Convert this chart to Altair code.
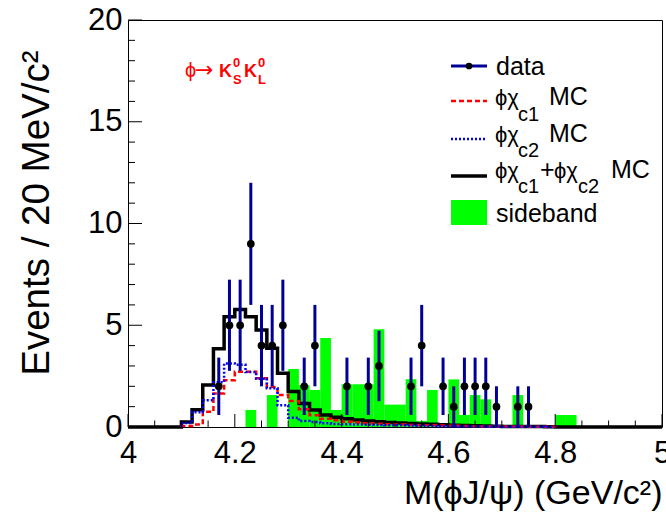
import altair as alt
import pandas as pd

FONT = "Liberation Sans"
W, H = 534, 407
BIN = 0.02

# ---------------- data ----------------
# MC histograms (20 MeV bins), contents from the bin starting at 4.10 to the bin starting at 4.78
mc_start = 4.10
mc_total = [0.25, 0.85, 2.06, 3.85, 5.42, 5.78, 5.42, 4.77, 3.87, 2.64, 1.74, 1.16, 0.83, 0.59,
            0.48, 0.40, 0.34, 0.30, 0.26, 0.22, 0.20, 0.17, 0.15, 0.13, 0.11, 0.09, 0.07, 0.06,
            0.05, 0.04, 0.03, 0.03, 0.02, 0.02, 0.01]
mc_c1 = [0.05, 0.12, 0.75, 1.65, 2.30, 2.72, 2.72, 2.40, 1.96, 1.57, 1.28, 0.87, 0.58, 0.40,
         0.33, 0.26, 0.22, 0.19, 0.16, 0.13, 0.12, 0.10, 0.09, 0.08, 0.07, 0.06, 0.05, 0.04,
         0.03, 0.03, 0.02, 0.02, 0.01, 0.01, 0.01]
mc_c2 = [0.20, 0.73, 1.31, 2.20, 3.12, 3.06, 2.70, 2.37, 1.91, 1.07, 0.46, 0.29, 0.25, 0.19,
         0.15, 0.14, 0.12, 0.11, 0.10, 0.09, 0.08, 0.07, 0.06, 0.05, 0.04, 0.03, 0.02, 0.02,
         0.02, 0.01, 0.01, 0.01, 0.01, 0.01, 0.00]

# sideband (bin low edge, content)
side_lo = [4.22, 4.26, 4.30, 4.32, 4.34, 4.36, 4.38, 4.40, 4.42, 4.44, 4.46, 4.48, 4.50, 4.52,
           4.54, 4.56, 4.60, 4.62, 4.64, 4.66, 4.72, 4.80, 4.82]
side_val = [0.84, 1.57, 2.85, 2.06, 1.82, 4.37, 0.84, 2.10, 2.10, 2.10, 4.80, 1.10, 1.10, 2.35,
            0.30, 1.82, 2.34, 0.59, 1.57, 1.36, 1.57, 0.59, 0.59]

# data points
data_x = [4.17, 4.19, 4.21, 4.23, 4.25, 4.27, 4.29, 4.33, 4.35, 4.41, 4.45, 4.47, 4.53, 4.55,
          4.59, 4.61, 4.63, 4.65, 4.67, 4.69, 4.73, 4.75]
data_n = [2, 5, 5, 9, 4, 4, 5, 2, 4, 2, 2, 3, 2, 4, 2, 1, 2, 2, 2, 1, 1, 1]
data_err = [1.41, 2.24, 2.24, 3.0, 2.0, 2.0, 2.24, 1.41, 2.0, 1.41, 1.41, 1.73, 1.41, 2.0,
            1.41, 1.0, 1.41, 1.41, 1.41, 1.0, 1.0, 1.0]

# axis ticks
x_major = [4.0, 4.2, 4.4, 4.6, 4.8, 5.0]
x_minor = [4.05, 4.1, 4.15, 4.25, 4.3, 4.35, 4.45, 4.5, 4.55, 4.65, 4.7, 4.75, 4.85, 4.9, 4.95]
y_major = [0, 5, 10, 15, 20]
y_minor = [1, 2, 3, 4, 6, 7, 8, 9, 11, 12, 13, 14, 16, 17, 18, 19]

# ---------------- scales / axes ----------------
xs = alt.Scale(domain=[4, 5], nice=False, zero=False)
ys = alt.Scale(domain=[0, 20], nice=False, zero=False)

x_axis = alt.Axis(
    values=x_major, format="~g", title="M(ϕJ/ψ) (GeV/c²)", ticks=False, tickSize=0,
    domain=False, grid=False, labelFont=FONT, labelFontSize=31, labelPadding=11,
    labelColor="black", labelFlush=False, labelOverlap=False,
    titleFont=FONT, titleFontSize=34, titleFontWeight="normal", titleColor="black",
    titleAnchor="end", titleAlign="right", titleX=W, titleY=76, titleBaseline="alphabetic",
)
y_axis = alt.Axis(
    values=y_major, format="~g", title="Events / 20 MeV/c²", ticks=False, tickSize=0,
    domain=False, grid=False, labelFont=FONT, labelFontSize=31, labelPadding=6,
    labelColor="black", labelOverlap=False,
    titleFont=FONT, titleFontSize=38.5, titleFontWeight="normal", titleColor="black",
    titleAngle=270, titleAnchor="end", titleAlign="right", titleX=-80, titleY=30,
    titleBaseline="alphabetic",
)


def X(field):
    return alt.X(field, scale=xs, axis=x_axis)


def Y(field):
    return alt.Y(field, scale=ys, axis=y_axis)


def step_frame(start, vals, pad_full=False):
    rows = []
    i = 0
    if pad_full:
        rows.append({"x": 4.0, "y": 0.0, "i": i}); i += 1
    rows.append({"x": start, "y": 0.0, "i": i}); i += 1
    for k, v in enumerate(vals):
        rows.append({"x": round(start + k * BIN, 4), "y": v, "i": i}); i += 1
    end = round(start + len(vals) * BIN, 4)
    rows.append({"x": end, "y": vals[-1], "i": i}); i += 1
    rows.append({"x": end, "y": 0.0, "i": i}); i += 1
    if pad_full:
        rows.append({"x": 5.0, "y": 0.0, "i": i}); i += 1
    return pd.DataFrame(rows)


def hist_line(df, color, width, dash=None):
    kw = dict(color=color, strokeWidth=width, interpolate="step-after", clip=False)
    if dash:
        kw["strokeDash"] = dash
    return alt.Chart(df).mark_line(**kw).encode(x=X("x:Q"), y=Y("y:Q"), order="i:Q")


dummy = pd.DataFrame({"a": [0]})
OX, OY = 128, 20  # plot origin in page pixels


def txt(s, x, y, size, color="black", weight="normal", font=FONT):
    return alt.Chart(dummy).mark_text(
        text=s, fontSize=size, font=font, color=color, fontWeight=weight,
        align="left", baseline="alphabetic", clip=False
    ).encode(x=alt.value(x - OX), y=alt.value(y - OY))


# ---------------- layers ----------------
side_df = pd.DataFrame({"lo": side_lo, "val": side_val})
side_df["hi"] = side_df["lo"] + BIN
side_df["zero"] = 0.0

side = alt.Chart(side_df).mark_rect(color="#00ff00").encode(
    x=X("lo:Q"), x2="hi:Q", y=Y("zero:Q"), y2="val:Q")

black = hist_line(step_frame(mc_start, mc_total, pad_full=True), "black", 3.5)
red = hist_line(step_frame(mc_start, mc_c1), "#ff0000", 2.5, [5, 3])
blue = hist_line(step_frame(mc_start, mc_c2), "#0000ff", 2.5, [2, 2])

pts_df = pd.DataFrame({"x": data_x, "n": data_n, "e": data_err})
pts_df["lo"] = pts_df["n"] - pts_df["e"]
pts_df["hi"] = pts_df["n"] + pts_df["e"]

ebars = alt.Chart(pts_df).mark_rule(color="#000099", strokeWidth=3).encode(
    x=X("x:Q"), y=Y("lo:Q"), y2="hi:Q")
pts = alt.Chart(pts_df).mark_point(filled=True, shape="circle", color="black", size=60, opacity=1).encode(
    x=X("x:Q"), y=Y("n:Q"))

# axis ticks (ROOT style: inside the frame)
xt_major = alt.Chart(pd.DataFrame({"v": x_major})).mark_rule(color="black", strokeWidth=1).encode(
    x=X("v:Q"), y=alt.value(H), y2=alt.value(H - 13))
xt_minor = alt.Chart(pd.DataFrame({"v": x_minor})).mark_rule(color="black", strokeWidth=1).encode(
    x=X("v:Q"), y=alt.value(H), y2=alt.value(H - 6.5))
yt_major = alt.Chart(pd.DataFrame({"v": y_major})).mark_rule(color="black", strokeWidth=1).encode(
    y=Y("v:Q"), x=alt.value(0), x2=alt.value(14))
yt_minor = alt.Chart(pd.DataFrame({"v": y_minor})).mark_rule(color="black", strokeWidth=1).encode(
    y=Y("v:Q"), x=alt.value(0), x2=alt.value(7))

# ---------------- legend ----------------
LX1, LX2 = 451 - OX, 487 - OX


def leg_line(y, color, width, dash=None):
    kw = dict(color=color, strokeWidth=width)
    if dash:
        kw["strokeDash"] = dash
    return alt.Chart(dummy).mark_rule(**kw).encode(
        x=alt.value(LX1), x2=alt.value(LX2), y=alt.value(y - OY))


GS = 22  # greek size in legend
SS = 20  # subscript size
legend = [
    leg_line(66, "#000099", 3),
    alt.Chart(dummy).mark_point(filled=True, shape="circle", color="black", size=45, opacity=1).encode(
        x=alt.value(469 - OX), y=alt.value(66 - OY)),
    txt("data", 496, 75, 25),
    leg_line(101, "#ff0000", 2.5, [5, 3]),
    txt("ϕχ", 495, 105, GS), txt("c1", 518, 121, SS), txt("MC", 549, 105, 25),
    leg_line(139, "#0000ff", 2.5, [2, 2]),
    txt("ϕχ", 495, 142, GS), txt("c2", 518, 157, SS), txt("MC", 549, 142, 25),
    leg_line(176, "black", 3.5),
    txt("ϕχ", 495, 178, GS), txt("c1", 518, 193, SS), txt("+", 540, 178, 25),
    txt("ϕχ", 554, 178, GS), txt("c2", 578, 193, SS), txt("MC", 611, 178, 25),
    alt.Chart(dummy).mark_rect(color="#00ff00").encode(
        x=alt.value(LX1), x2=alt.value(LX2), y=alt.value(200 - OY), y2=alt.value(225 - OY)),
    txt("sideband", 496, 222, 25),
]

# decay-mode label
RED = "#ff0000"
label = [
    txt("ϕ", 185, 77, 20, color=RED),
    txt("→", 195, 77, 22, color=RED, font="DejaVu Sans"),
    txt("K", 219, 77, 18, color=RED, weight="bold"),
    txt("0", 233, 67, 13, color=RED, weight="bold"),
    txt("S", 233, 84, 13, color=RED, weight="bold"),
    txt("K", 244, 77, 18, color=RED, weight="bold"),
    txt("0", 258, 67, 13, color=RED, weight="bold"),
    txt("L", 258, 84, 13, color=RED, weight="bold"),
]

chart = alt.layer(
    side, black, red, blue, ebars, pts, xt_major, xt_minor, yt_major, yt_minor,
    *legend, *label
).properties(
    width=W, height=H,
    padding={"left": 128, "top": 20, "right": 4, "bottom": 93},
    autosize=alt.AutoSizeParams(type="none"),
    background="white",
).configure_view(stroke="black", strokeWidth=1)

chart.save("out.html", embed_options={"renderer": "svg", "actions": False})
